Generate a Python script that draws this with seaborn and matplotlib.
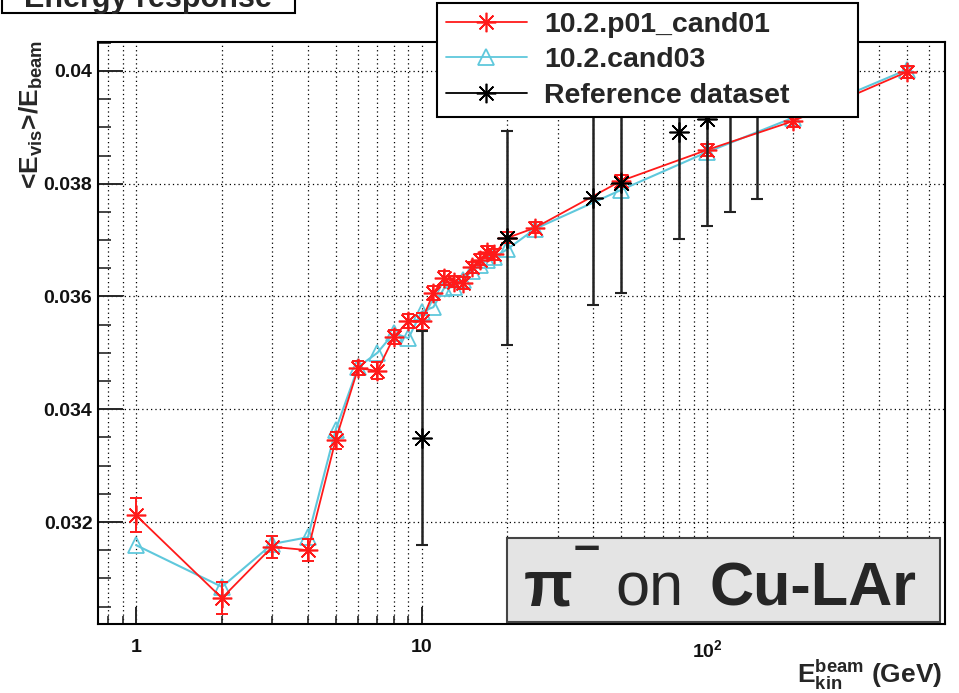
import numpy as np
import pandas as pd
import matplotlib
matplotlib.use("Agg")
import matplotlib.pyplot as plt
import seaborn as sns
from matplotlib.lines import Line2D
from matplotlib.patches import Rectangle
from matplotlib.ticker import FixedLocator, FixedFormatter, LogLocator, NullFormatter, MultipleLocator

# ---------------- data ----------------
energies_mc = [1, 2, 3, 4, 5, 6, 7, 8, 9, 10, 11, 12, 13, 14, 15, 16, 17, 18, 20, 25, 50, 100, 200, 500]
resp_cand01 = [0.03212, 0.03065, 0.03156, 0.03150, 0.03345, 0.03473, 0.03468, 0.03528, 0.03557, 0.03556,
               0.03606, 0.03633, 0.03626, 0.03624, 0.03652, 0.03665, 0.03679, 0.03675, 0.03704, 0.03722,
               0.03805, 0.03860, 0.03911, 0.03998]
err_cand01 = [0.0003, 0.00028, 0.0002, 0.0002, 0.00015, 0.00012, 0.00015, 0.00012, 0.00012, 0.00015,
              0.00012, 0.00012, 0.0001, 0.0001, 0.0001, 0.0001, 0.0001, 0.0001, 0.0001, 0.0001,
              0.0001, 0.0001, 0.0001, 0.0001]
resp_cand03 = [0.03159, 0.03085, 0.03161, 0.03173, 0.03363, 0.03475, 0.03500, 0.03535, 0.03526, 0.03573,
               0.03581, 0.03615, 0.03617, 0.03630, 0.03645, 0.03655, 0.03665, 0.03670, 0.03684, 0.03720,
               0.03789, 0.03856, 0.03917, 0.04002]
energies_ref = [10, 20, 40, 50, 80, 100, 120, 150]
resp_ref = [0.03349, 0.03704, 0.03775, 0.03801, 0.03892, 0.03915, 0.03940, 0.03963]
err_ref = [0.0019, 0.0019, 0.0019, 0.00195, 0.0019, 0.0019, 0.0019, 0.0019]

series_names = ["10.2.p01_cand01", "10.2.cand03", "Reference dataset"]
x_ticks = [1, 10, 100]
x_ticklabels = ["1", "10", r"$10^{2}$"]
y_ticks = [0.032, 0.034, 0.036, 0.038, 0.04]
y_ticklabels = ["0.032", "0.034", "0.036", "0.038", "0.04"]

df_mc = pd.DataFrame({"E": energies_mc, "cand01": resp_cand01, "cand03": resp_cand03, "err01": err_cand01})
df_ref = pd.DataFrame({"E": energies_ref, "resp": resp_ref, "err": err_ref})

# ---------------- style ----------------
sns.set_theme(style="ticks")
plt.rcParams["font.family"] = ["Liberation Sans", "DejaVu Sans"]
plt.rcParams["mathtext.fontset"] = "custom"
plt.rcParams["mathtext.rm"] = "Liberation Sans"
plt.rcParams["mathtext.bf"] = "Liberation Sans:bold"
plt.rcParams["mathtext.it"] = "Liberation Sans:italic"
plt.rcParams["mathtext.default"] = "bf"

RED = "#ff1a1a"
CYAN = "#5fc8dc"
STAR = (8, 2, 0)

W, H = 959, 693
fig = plt.figure(figsize=(W / 100, H / 100), dpi=100)
fig.patch.set_facecolor("white")
ax = fig.add_axes([98 / W, 1 - 624 / H, 847 / W, 582 / H])
ax.set_facecolor("white")

# cyan series
sns.lineplot(data=df_mc, x="E", y="cand03", ax=ax, color=CYAN, lw=1.5, marker="^",
             markersize=12, markerfacecolor="none", markeredgecolor=CYAN, markeredgewidth=1.3,
             sort=False, estimator=None, zorder=3)
# red series
ax.errorbar(df_mc["E"], df_mc["cand01"], yerr=df_mc["err01"], fmt="none", ecolor=RED,
            elinewidth=1.4, capsize=4, capthick=1.4, zorder=4)
sns.lineplot(data=df_mc, x="E", y="cand01", ax=ax, color=RED, lw=1.3, marker=STAR,
             markersize=14, markeredgecolor=RED, markeredgewidth=1.2,
             sort=False, estimator=None, zorder=5)
# reference
ax.errorbar(df_ref["E"], df_ref["resp"], yerr=df_ref["err"], fmt="none", ecolor="#222222",
            elinewidth=1.8, capsize=4, capthick=1.5, zorder=6)
sns.scatterplot(data=df_ref, x="E", y="resp", ax=ax, marker=STAR, s=190, color="black",
                linewidth=1.2, zorder=7)

ax.set_xscale("log")
ax.set_xlim(0.736, 681.6)
ax.set_ylim(0.030191, 0.040514)

ax.xaxis.set_major_locator(FixedLocator(x_ticks))
ax.xaxis.set_major_formatter(FixedFormatter(x_ticklabels))
ax.xaxis.set_minor_locator(LogLocator(base=10, subs=np.arange(2, 10)))
ax.xaxis.set_minor_formatter(NullFormatter())
ax.yaxis.set_major_locator(FixedLocator(y_ticks))
ax.yaxis.set_major_formatter(FixedFormatter(y_ticklabels))
ax.yaxis.set_minor_locator(MultipleLocator(0.0005))

ax.tick_params(axis="x", which="major", direction="in", length=12, width=1.4, pad=11,
               labelsize=14, top=False)
ax.tick_params(axis="x", which="minor", direction="in", length=6, width=1.2, top=False)
ax.tick_params(axis="y", which="major", direction="in", length=18, width=1.4, pad=4,
               labelsize=14, right=False)
ax.tick_params(axis="y", which="minor", direction="in", length=9, width=1.2, right=False)
for lab in ax.get_xticklabels() + ax.get_yticklabels():
    lab.set_fontweight("bold")
    lab.set_color("#111111")

ax.grid(True, which="major", axis="both", color="black", linestyle=(0, (1, 2.5)), lw=0.9)
ax.grid(True, which="minor", axis="x", color="black", linestyle=(0, (1, 2.5)), lw=0.9)
ax.set_axisbelow(True)
for sp in ax.spines.values():
    sp.set_linewidth(1.5)
    sp.set_color("black")

ax.set_xlabel("")
ax.set_ylabel("")

# axis titles
fig.text(31 / W, 1 - 40 / H, r"<$E_{vis}$>/$E_{beam}$", rotation=90, ha="center", va="top",
         fontsize=19, fontweight="bold")
fig.text(942 / W, 1 - 683 / H, r"$E_{kin}^{beam}$ (GeV)", ha="right", va="baseline",
         fontsize=19, fontweight="bold")

# legend
handles = [
    Line2D([], [], color=RED, lw=1.3, marker=STAR, markersize=14, markeredgewidth=1.2),
    Line2D([], [], color=CYAN, lw=1.3, marker="^", markersize=12, markerfacecolor="none",
           markeredgewidth=1.3),
    Line2D([], [], color="black", lw=1.3, marker=STAR, markersize=14, markeredgewidth=1.2),
]
leg = fig.legend(handles, series_names, loc="upper left",
                 bbox_to_anchor=(437 / W, 1 - 3 / H, 421 / W, 0), mode="expand",
                 prop={"size": 20.5, "weight": "bold"}, frameon=True, fancybox=False,
                 edgecolor="black", framealpha=1, handlelength=2.85, handletextpad=0.6,
                 borderpad=0.3, labelspacing=0.34, borderaxespad=0)
leg.get_frame().set_linewidth(1.5)
leg.set_zorder(20)

# title box (cut by the top edge, as in the original)
fig.patches.append(Rectangle((2 / W, 1 - 12.5 / H), 293 / W, 30 / H, transform=fig.transFigure,
                             facecolor="white", edgecolor="black", lw=1.5, zorder=5))
fig.text(148 / W, 1 - 7 / H, "Energy response", ha="center", va="baseline", fontsize=22,
         fontweight="bold", zorder=6)

# pi- on Cu-LAr box
fig.patches.append(Rectangle((507 / W, 1 - 622 / H), 433 / W, 84 / H, transform=fig.transFigure,
                             facecolor="#e4e4e4", edgecolor="#444444", lw=1.5, zorder=10))
base = 1 - 605 / H
fig.text(524 / W, base, "π", ha="left", va="baseline", fontsize=46, fontweight="bold", zorder=11)
fig.text(587 / W, 1 - 548 / H, "\u2013", ha="center", va="center", fontsize=34, fontweight="bold", zorder=11)
fig.text(615 / W, base, "on", ha="left", va="baseline", fontsize=44, zorder=11)
fig.text(710 / W, base, "Cu-LAr", ha="left", va="baseline", fontsize=44, fontweight="bold", zorder=11)

fig.savefig("out.png", dpi=100)
